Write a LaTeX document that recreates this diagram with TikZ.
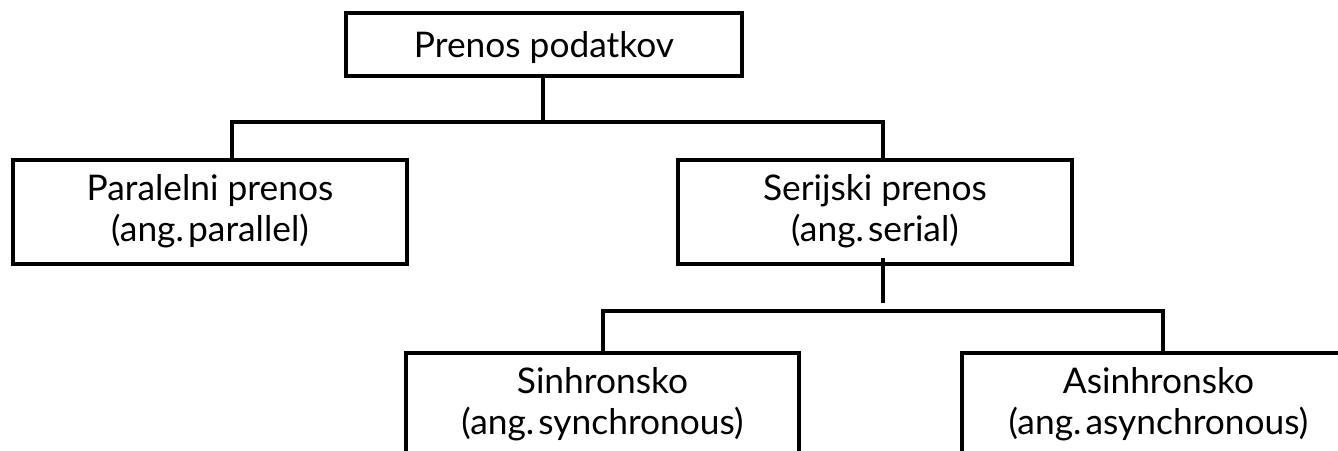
\documentclass[tikz,border=0pt]{standalone}
\usepackage{fontspec}
\setmainfont{Lato}
\newcommand{\angsp}{\hspace{0.12em}}
\begin{document}
\begin{tikzpicture}[x=0.75pt,y=-0.75pt,
  box/.style={draw=black,line width=3pt,fill=white,align=center,inner sep=0pt,
    font=\fontsize{26.5}{30.5}\selectfont,text depth=6pt},
  topbox/.style={box,text depth=0pt},
  conn/.style={draw=black,line width=2.5pt}]
\useasboundingbox (0,0) rectangle (1338,450);
\clip (0,0) rectangle (1338,450);
\node[topbox,minimum width=396*0.75pt,minimum height=63*0.75pt] (top) at (544,44.5) {Prenos podatkov};
\node[box,minimum width=394*0.75pt,minimum height=104*0.75pt] (par) at (210,212) {Paralelni prenos\\(ang.\angsp parallel)};
\node[box,minimum width=394*0.75pt,minimum height=104*0.75pt] (ser) at (875,212) {Serijski prenos\\(ang.\angsp serial)};
\node[box,minimum width=393*0.75pt,minimum height=104*0.75pt] (syn) at (602.5,405) {Sinhronsko\\(ang.\angsp synchronous)};
\node[box,minimum width=393*0.75pt,minimum height=104*0.75pt] (asy) at (1158.5,405) {Asinhronsko\\(ang.\angsp asynchronous)};
\coordinate (j1) at (543,122);
\coordinate (l1) at (232,122);
\coordinate (r1) at (883,122);
\coordinate (s0) at (883,258);
\coordinate (s1) at (883,303);
\coordinate (l2) at (603,311);
\coordinate (r2) at (1163,311);
\draw[conn] (top.south -| j1) -- (j1);
\draw[conn] (par.north -| l1) -- (l1) -- (r1) -- (ser.north -| r1);
\draw[conn] (s0) -- (s1);
\draw[conn] (syn.north -| l2) -- (l2) -- (r2) -- (asy.north -| r2);
\end{tikzpicture}
\end{document}
